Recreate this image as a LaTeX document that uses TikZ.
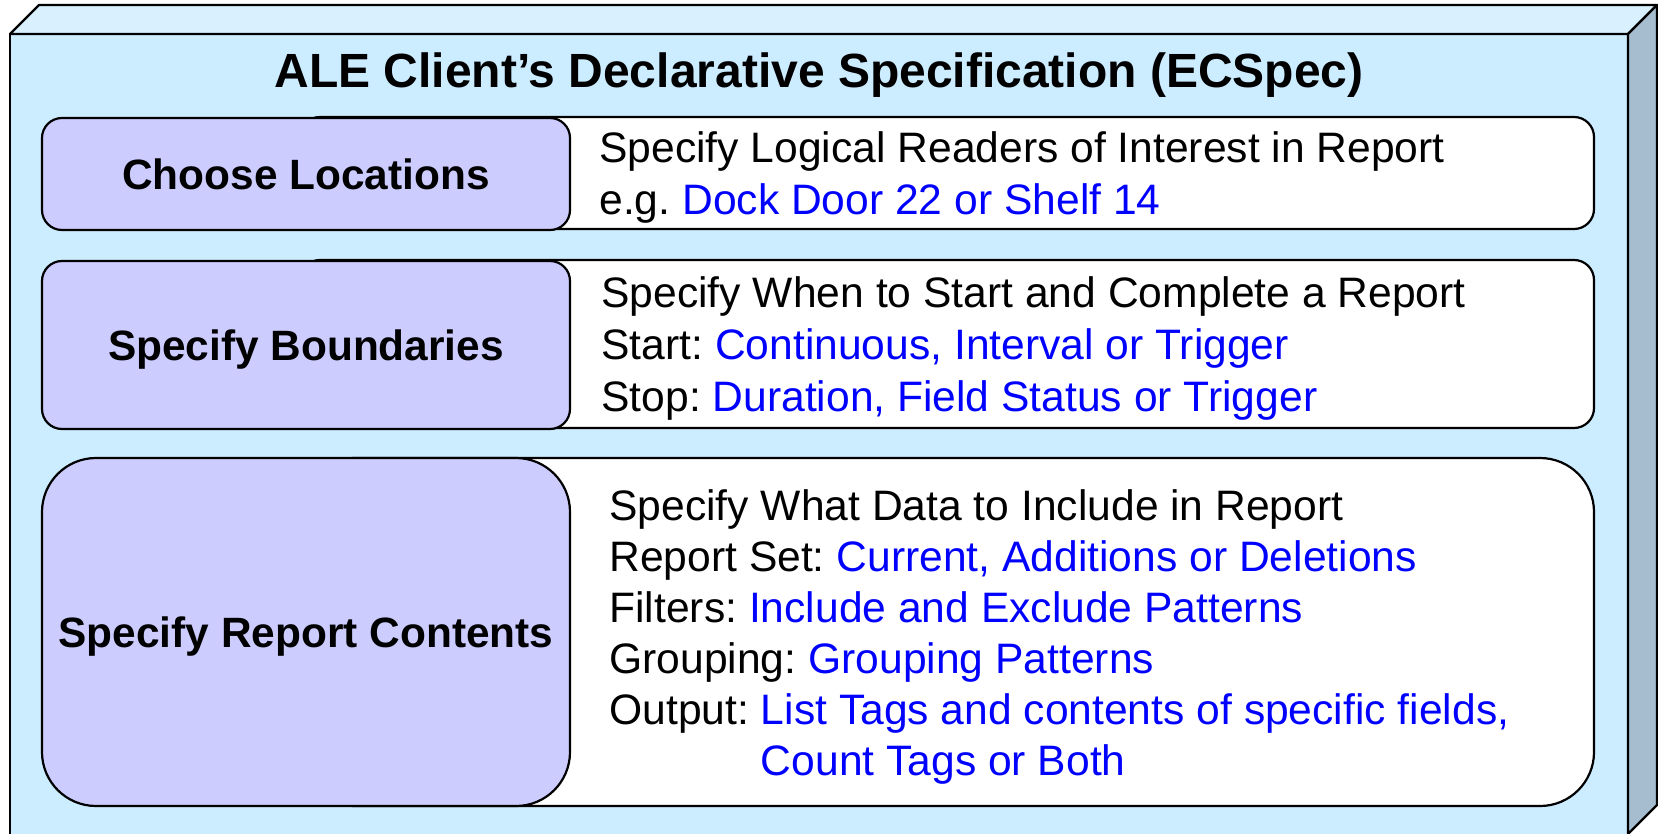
\documentclass[tikz,border=0pt]{standalone}
\usepackage{fontspec}
\setmainfont{Liberation Sans}
\frenchspacing
\definecolor{frontface}{HTML}{CCECFF}
\definecolor{topface}{HTML}{D9F1FF}
\definecolor{sideface}{HTML}{A6BDD0}
\definecolor{stepfill}{HTML}{CCCCFF}
\definecolor{valblue}{HTML}{0000FF}
\tikzset{
  edge/.style={draw=black, line width=1.1pt, line join=round},
  stepbox/.style={edge, fill=stepfill, rounded corners=10pt, inner sep=0pt,
    minimum width=264pt, text height=15.2pt, text depth=0pt,
    font=\fontsize{21.2pt}{25pt}\selectfont\bfseries},
  detailbox/.style={edge, fill=white, rounded corners=10pt, inner sep=0pt,
    minimum width=647pt},
  txt/.style={anchor=base west, inner sep=0pt, font=\fontsize{21.3pt}{25.8pt}\selectfont},
  val/.style={text=valblue}
}
\begin{document}
\begin{tikzpicture}[x=0.5pt, y=-0.5pt]
\useasboundingbox (0,0) rectangle (1658,834);
\clip (0,0) rectangle (1658,834);

% 3D slab: front, top and side faces
\fill[frontface] (10,34) rectangle (1628,840);
\draw[edge, fill=topface] (10,34) -- (39,5) -- (1657,5) -- (1628,34) -- cycle;
\draw[edge, fill=sideface] (1628,34) -- (1657,5) -- (1657,805) -- (1628,834) -- cycle;
\draw[edge] (10,840) -- (10,34) -- (1628,34) -- (1628,840);

% title
\node[anchor=base, inner sep=0pt, font=\fontsize{24pt}{28pt}\selectfont\bfseries] (title) at (819,88)
  {ALE Client’s Declarative Specification (ECSpec)};

% detail panels (behind the step boxes)
\node[detailbox, minimum height=56pt] (d1) at (947,173) {};
\node[detailbox, minimum height=84pt] (d2) at (947,344) {};
\node[detailbox, minimum height=174pt, rounded corners=27pt] (d3) at (947,632) {};

% step boxes
\node[stepbox, minimum height=56pt] (s1) at (306,174) {Choose Locations};
\node[stepbox, minimum height=84pt] (s2) at (306,345) {Specify Boundaries};
\node[stepbox, minimum height=174pt, rounded corners=27pt] (s3) at (306,632) {Specify Report Contents};

% locations
\node[txt] (l1a) at (599,163) {Specify Logical Readers of Interest in Report};
\node[txt] (l1b) at (599,215) {e.g. \textcolor{valblue}{Dock Door 22 or Shelf 14}};

% boundaries
\node[txt] (l2a) at (601,307) {Specify When to Start and Complete a Report};
\node[txt] (l2b) at (601,359) {Start: \textcolor{valblue}{Continuous, Interval or Trigger}};
\node[txt] (l2c) at (601,411) {Stop: \textcolor{valblue}{Duration, Field Status or Trigger}};

% report contents
\node[txt] (l3a) at (609,520) {Specify What Data to Include in Report};
\node[txt] (l3b) at (609,571) {Report Set: \textcolor{valblue}{Current, Additions or Deletions}};
\node[txt] (l3c) at (609,622) {Filters: \textcolor{valblue}{Include and Exclude Patterns}};
\node[txt] (l3d) at (609,673) {Grouping: \textcolor{valblue}{Grouping Patterns}};
\node[txt] (l3e) at (609,724) {Output: \textcolor{valblue}{List Tags and contents of specific fields,}};
\node[txt] (l3f) at (609,775) {\phantom{Output: }\textcolor{valblue}{Count Tags or Both}};
\end{tikzpicture}
\end{document}
